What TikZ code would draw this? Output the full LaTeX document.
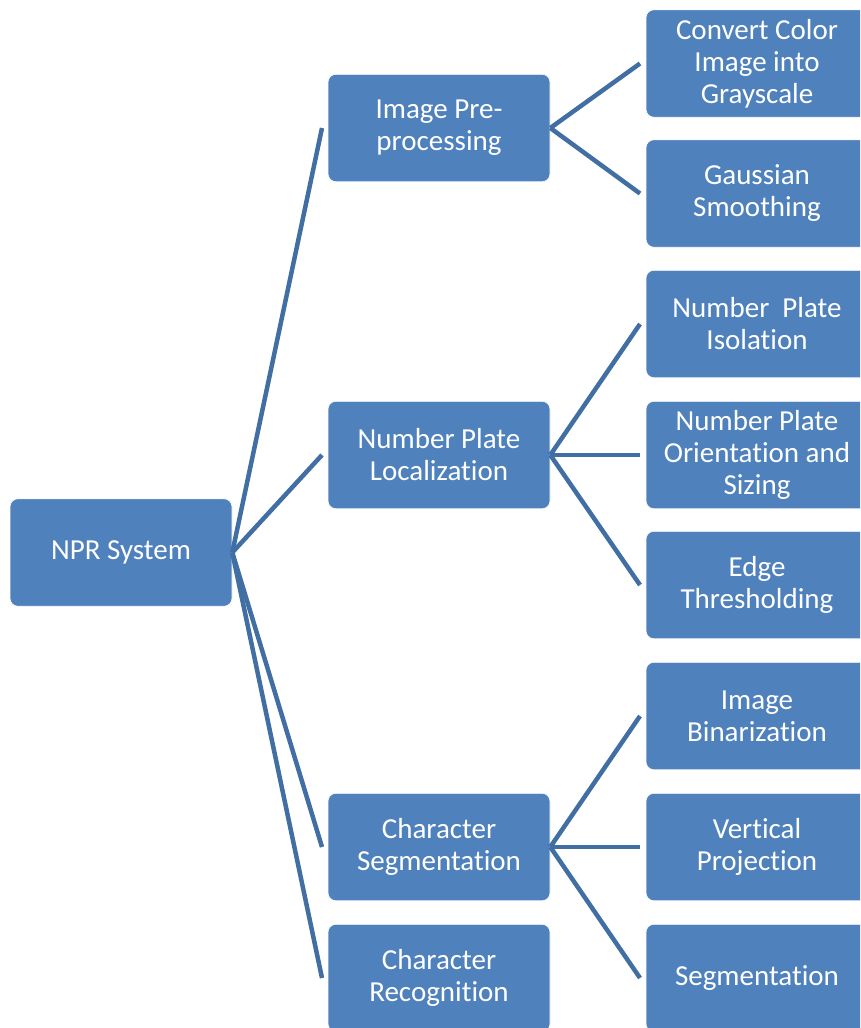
\documentclass[tikz,border=0pt]{standalone}
\usepackage{fontspec}
\setmainfont{Carlito}[Ligatures={NoCommon}]
\definecolor{boxblue}{RGB}{79,129,189}
\definecolor{lineblue}{RGB}{65,110,163}
\tikzset{
  box/.style={rectangle, rounded corners=8pt, fill=boxblue, draw=white, line width=0.6pt,
    minimum width=222pt, minimum height=107.5pt, inner sep=2pt, text=white,
    align=center, font=\fontsize{29pt}{32pt}\selectfont},
  link/.style={draw=lineblue, line width=4.5pt}
}
\begin{document}
\begin{tikzpicture}[x=1pt,y=-1pt]
\useasboundingbox (0,0) rectangle (860,1028);
\clip (0,0) rectangle (860,1028);
% root
\node[box] (npr) at (121,552.5) {NPR System};
% level 1
\node[box] (pre) at (439,128) {Image Pre-\\processing};
\node[box] (loc) at (439,455) {Number Plate\\Localization};
\node[box] (seg) at (439,847) {Character\\Segmentation};
\node[box] (rec) at (439,978) {Character\\Recognition};
% level 2
\node[box] (gray) at (757,63.5) {Convert Color\\Image into\\Grayscale};
\node[box] (gauss) at (757,193.5) {Gaussian\\Smoothing};
\node[box] (iso) at (757,324) {Number\ \ Plate\\Isolation};
\node[box] (ori) at (757,455) {Number Plate\\Orientation and\\Sizing};
\node[box] (edge) at (757,585) {Edge\\Thresholding};
\node[box] (bin) at (757,716) {Image\\Binarization};
\node[box] (vproj) at (757,847) {Vertical\\Projection};
\node[box] (sgm) at (757,978) {Segmentation};
% connector end points
\coordinate (e-pre) at (322,128);
\coordinate (e-loc) at (322,455);
\coordinate (e-seg) at (322,847);
\coordinate (e-rec) at (322,978);
\coordinate (e-gray) at (640,63.5);
\coordinate (e-gauss) at (640,193.5);
\coordinate (e-iso) at (640,324);
\coordinate (e-ori) at (640,455);
\coordinate (e-edge) at (640,585);
\coordinate (e-bin) at (640,716);
\coordinate (e-vproj) at (640,847);
\coordinate (e-sgm) at (640,978);
% connectors
\foreach \t in {pre,loc,seg,rec} \draw[link] (npr.east) -- (e-\t);
\foreach \t in {gray,gauss} \draw[link] (pre.east) -- (e-\t);
\foreach \t in {iso,ori,edge} \draw[link] (loc.east) -- (e-\t);
\foreach \t in {bin,vproj,sgm} \draw[link] (seg.east) -- (e-\t);
\end{tikzpicture}
\end{document}
